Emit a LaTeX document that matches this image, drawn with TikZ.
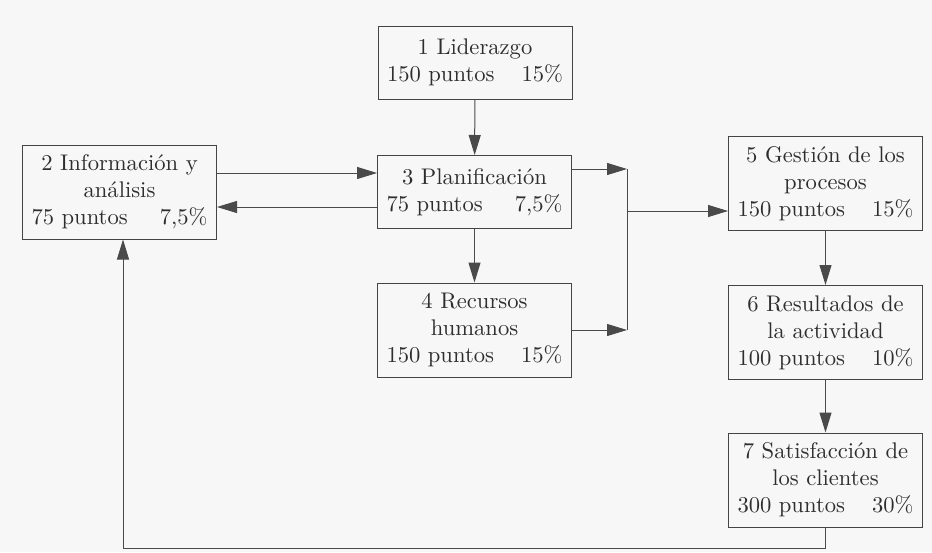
\documentclass[tikz,border=0pt]{standalone}
\usepackage{fontspec}
\newfontfamily\boxfont{lmroman10-regular}[Extension=.otf]
\usetikzlibrary{arrows.meta}
\definecolor{boxgray}{HTML}{444444}
\definecolor{textgray}{HTML}{2E2E2E}
\definecolor{linegray}{HTML}{4A4A4A}
\definecolor{paper}{HTML}{F7F7F7}
\begin{document}
\begin{tikzpicture}[x=1pt, y=-1pt,
    box/.style={draw=boxgray, line width=1pt, text=textgray, text width=176pt,
      inner xsep=9pt, inner ysep=0pt, align=center,
      font=\boxfont\fontsize{22.6}{27}\selectfont},
    twoline/.style={box, minimum height=73pt},
    threeline/.style={box, minimum height=94pt},
    arr/.style={draw=linegray, line width=1pt, -{Triangle[length=20pt,width=12pt]}}]
  \useasboundingbox[fill=paper] (0,0) rectangle (932,552);

  \node[twoline] (lid) at (475,62.5) {1 Liderazgo\\150 puntos\hfill 15\%};
  \node[threeline] (inf) at (119.5,192) {2 Información y\\análisis\\75 puntos\hfill 7,5\%};
  \node[twoline] (pla) at (474.5,192) {3 Planificación\\75 puntos\hfill 7,5\%};
  \node[threeline] (rrhh) at (474.5,330) {4 Recursos\\humanos\\150 puntos\hfill 15\%};
  \node[threeline] (ges) at (825.5,183.5) {5 Gestión de los\\procesos\\150 puntos\hfill 15\%};
  \node[threeline] (res) at (825.5,332.5) {6 Resultados de\\la actividad\\100 puntos\hfill 10\%};
  \node[threeline] (sat) at (825.5,480) {7 Satisfacción de\\los clientes\\300 puntos\hfill 30\%};

  \coordinate (jtop) at (627,169);
  \coordinate (jmid) at (627,211);
  \coordinate (loop) at (123,548);

  \draw[arr] (lid) -- (pla);
  \draw[arr] ([yshift=19pt]inf.east) -- ([yshift=19pt]inf.east -| pla.west);
  \draw[arr] ([yshift=-15pt]pla.west) -- ([yshift=-15pt]pla.west -| inf.east);
  \draw[arr] (pla) -- (rrhh);
  \draw[arr] (pla.east |- jtop) -- (jtop);
  \draw[arr] (rrhh.east) -- (rrhh.east -| jtop);
  \draw[draw=linegray, line width=1pt] (jtop) -- (rrhh.east -| jtop);
  \draw[arr] (jmid) -- (jmid -| ges.west);
  \draw[arr] (ges) -- (res);
  \draw[arr] (res) -- (sat);
  \draw[arr] (sat.south) |- (loop) -- (loop |- inf.south);
\end{tikzpicture}
\end{document}
